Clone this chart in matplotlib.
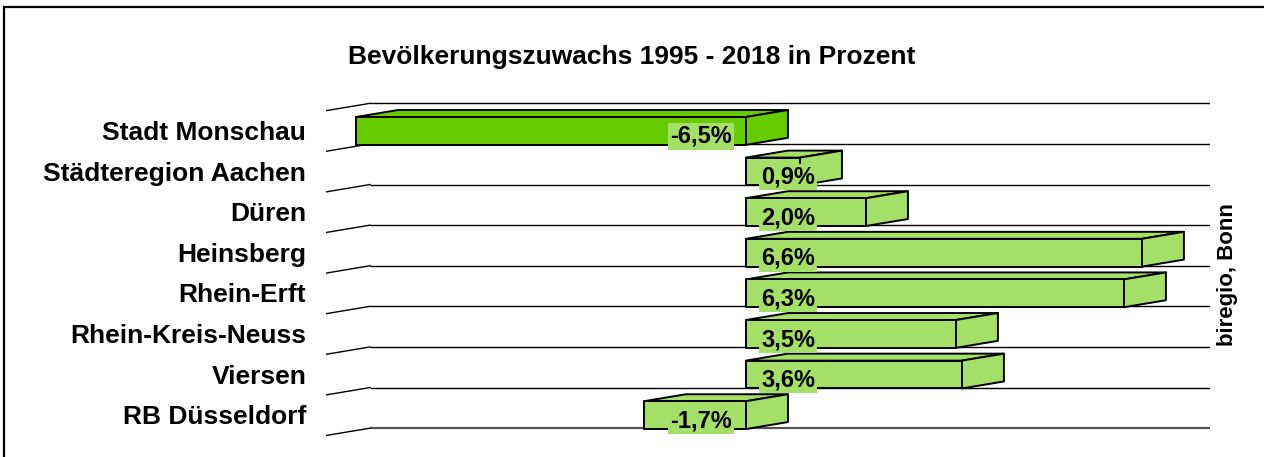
import matplotlib
matplotlib.use("Agg")
import matplotlib.pyplot as plt
from matplotlib.patches import Polygon, Rectangle
from matplotlib import font_manager as fm

categories = ["Stadt Monschau", "Städteregion Aachen", "Düren", "Heinsberg",
              "Rhein-Erft", "Rhein-Kreis-Neuss", "Viersen", "RB Düsseldorf"]
values = [-6.5, 0.9, 2.0, 6.6, 6.3, 3.5, 3.6, -1.7]
value_labels = ["-6,5%", "0,9%", "2,0%", "6,6%", "6,3%", "3,5%", "3,6%", "-1,7%"]
bar_colors = ["#66CC00", "#A4E068", "#A4E068", "#A4E068", "#A4E068", "#A4E068", "#A4E068", "#A4E068"]
title = "Bevölkerungszuwachs 1995 - 2018 in Prozent"
source = "biregio, Bonn"
xmin, xmax = -7, 7

def has_font(name):
    try:
        fm.findfont(fm.FontProperties(family=name, weight="bold"), fallback_to_default=False)
        return True
    except Exception:
        return False

BASE = "Liberation Sans"
NARROW = "Liberation Sans Narrow" if has_font("Liberation Sans Narrow") else BASE

W, H = 1264, 457
fig = plt.figure(figsize=(W / 100, H / 100), dpi=100)

# 3D depth offsets (data units)
DX = 0.735
DY = -0.172
BDX = 0.70

left_px, right_px, top_px, bot_px = 326, 1210, 96, 440
ax = fig.add_axes([left_px / W, 1 - bot_px / H, (right_px - left_px) / W, (bot_px - top_px) / H])
ax.set_xlim(xmin, xmax + DX)
ax.set_ylim(8.12, -0.352)
ax.axis("off")

n = len(categories)
for k in range(n + 1):
    bottom_edge = (k == n)
    col = "#555555" if bottom_edge else "black"
    lw = 1.6 if bottom_edge else 1.0
    ax.plot([xmin + DX, xmax + DX], [k + DY, k + DY], color=col, lw=lw, solid_capstyle="butt", zorder=1)
    ax.plot([xmin, xmin + DX], [k + 0.01, k + DY], color="black", lw=1.0, zorder=1)

EC = "black"
ELW = 1.4
for i, (v, c) in enumerate(zip(values, bar_colors)):
    x0, x1 = min(0, v), max(0, v)
    top, bot = i + 0.165, i + 0.85
    z = 2 + i * 0.01
    front = Polygon([(x0, top), (x1, top), (x1, bot), (x0, bot)], closed=True,
                    facecolor=c, edgecolor=EC, lw=ELW, joinstyle="round", zorder=z)
    topf = Polygon([(x0, top), (x1, top), (x1 + BDX, top + DY), (x0 + BDX, top + DY)], closed=True,
                   facecolor=c, edgecolor=EC, lw=ELW, joinstyle="round", zorder=z)
    side = Polygon([(x1, top), (x1 + BDX, top + DY), (x1 + BDX, bot + DY), (x1, bot)], closed=True,
                   facecolor=c, edgecolor=EC, lw=ELW, joinstyle="round", zorder=z)
    for p in (topf, side, front):
        ax.add_patch(p)

for i, (v, lab) in enumerate(zip(values, value_labels)):
    xc = 0.70 if v >= 0 else -0.75
    ax.text(xc, i + 0.645, lab, ha="center", va="center", fontsize=17, fontweight="bold",
            family=NARROW, color="black", zorder=5,
            bbox=dict(boxstyle="square,pad=0.08", facecolor="#A4E068", edgecolor="none"))

for i, cat in enumerate(categories):
    ax.text(-7.33, i + 0.56, cat, ha="right", va="center", fontsize=19, fontweight="bold",
            family=BASE, color="black", clip_on=False)

fig.text(632 / W, 1 - 57 / H, title, ha="center", va="center", fontsize=19,
         fontweight="bold", family=BASE)
fig.text(1228 / W, 1 - 275 / H, source, ha="center", va="center", rotation=90,
         fontsize=16, fontweight="bold", family=NARROW)

frame = Rectangle((4 / W, -0.2), 1.2, 1.2 - 6.5 / H, transform=fig.transFigure,
                  fill=False, edgecolor="black", lw=1.6, clip_on=False)
fig.patches.append(frame)

fig.savefig("out.png", dpi=100)
